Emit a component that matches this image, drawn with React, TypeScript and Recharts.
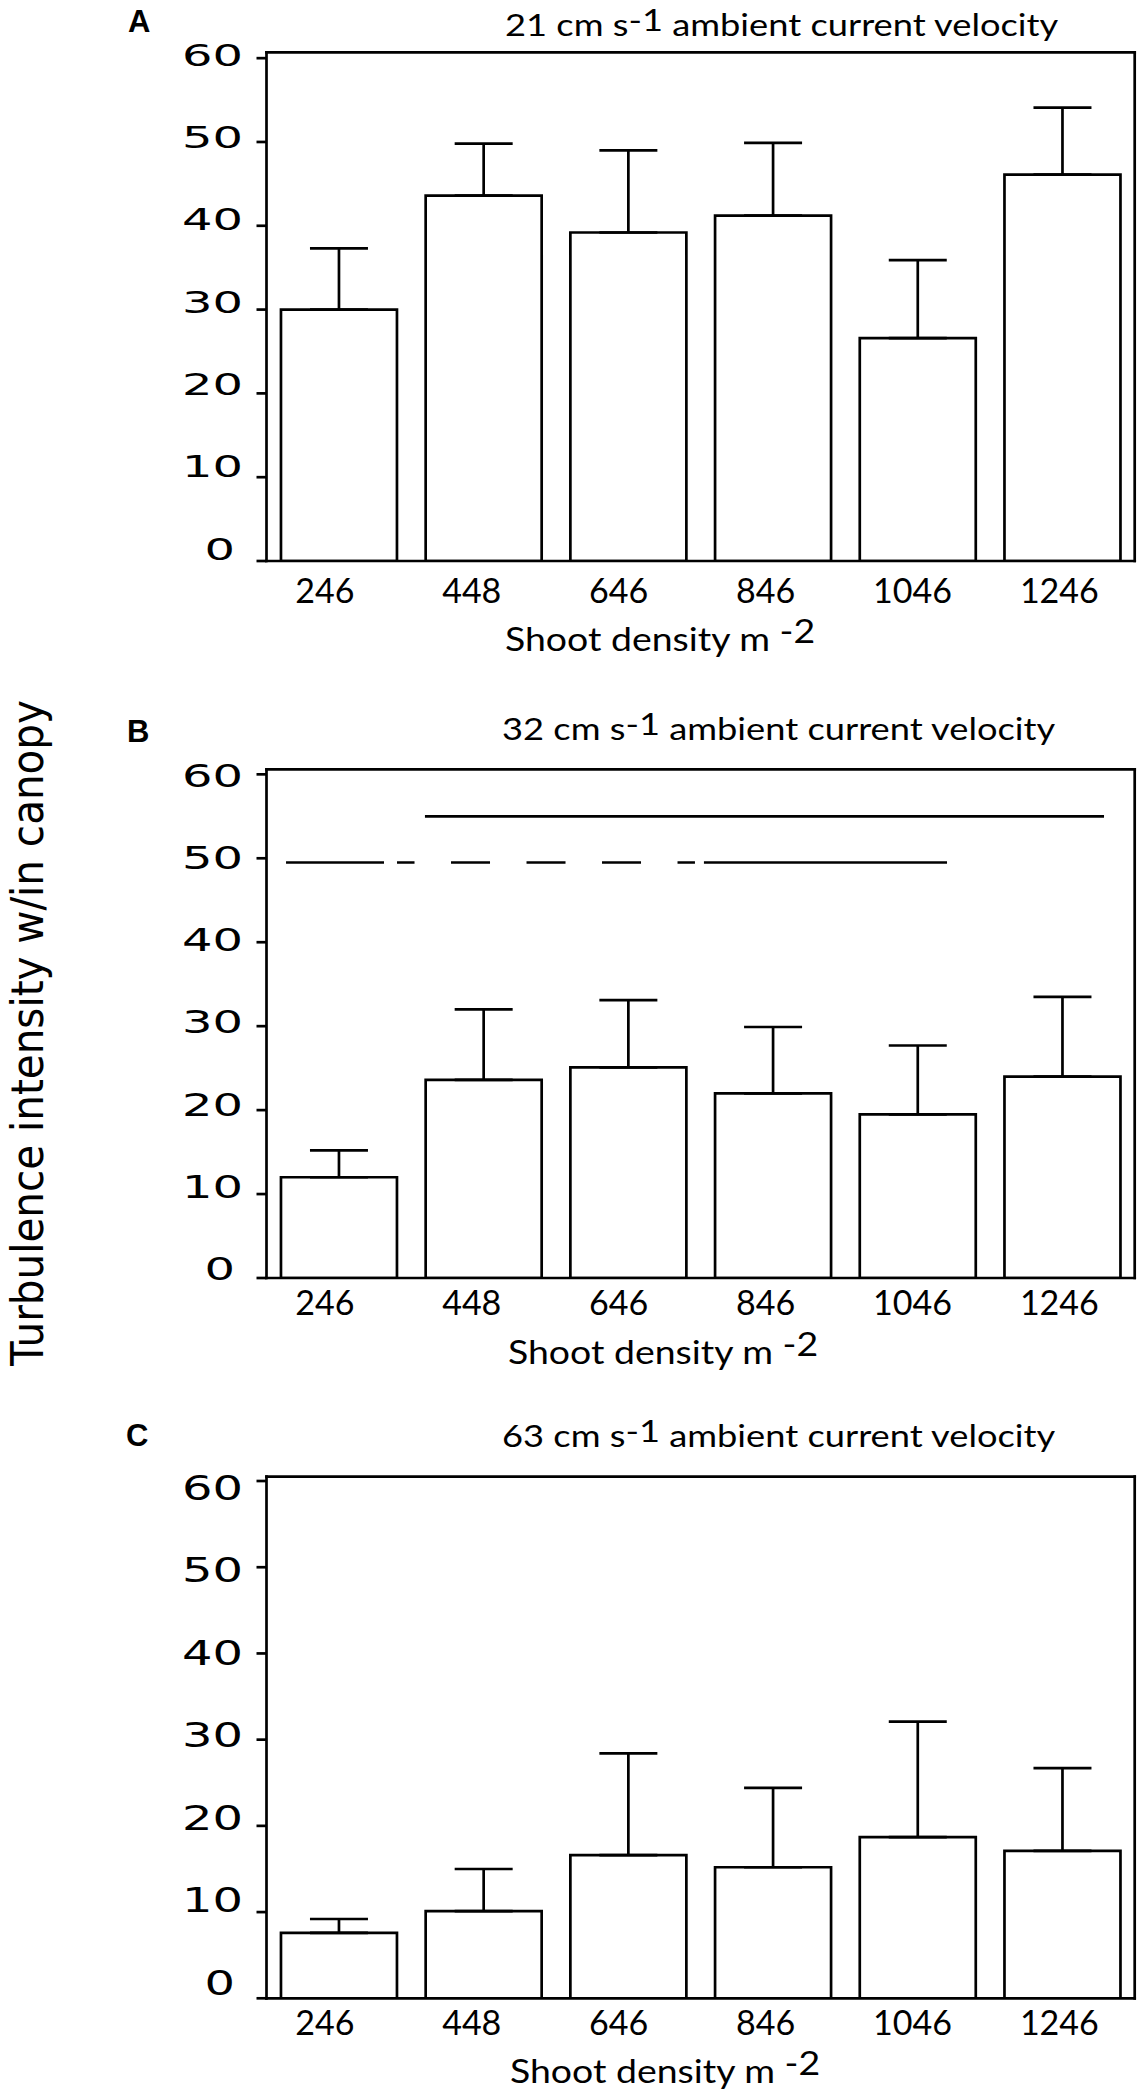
import React from "react";
import { BarChart, Bar, XAxis, YAxis, ErrorBar, ReferenceLine } from "recharts";

// shoot density categories shared by all three panels
const densities = ["246", "448", "646", "846", "1046", "1246"];
const yTicks = [0, 10, 20, 30, 40, 50, 60];

// turbulence intensity (mean) and upper error bar, per ambient velocity
const meanA = [30.0, 43.6, 39.2, 41.2, 26.6, 46.1];
const errA = [7.3, 6.2, 9.8, 8.7, 9.3, 8.0];
const meanB = [12.0, 23.6, 25.1, 22.0, 19.5, 24.0];
const errB = [3.2, 8.4, 8.0, 7.9, 8.2, 9.5];
const meanC = [7.6, 10.1, 16.6, 15.2, 18.7, 17.1];
const errC = [1.6, 4.9, 11.8, 9.2, 13.4, 9.6];

// panel B grouping lines, x in bar units (0 = left edge, 6 = right edge)
const upperGroup = { y: 55, from: 1.095, to: 5.788 };
const lowerGroup = { y: 49.5, solidA: [0.135, 0.812], dashed: [0.902, 2.961], solidB: [3.023, 4.703] };

const INK = "#000";
const SW = 2.7;
const PLOT_LEFT = 266.5;
const PLOT_RIGHT = 1134.7;
const W = 1139;
const STRETCH = 1.17; // the original figure's lettering is widened

// bars sit at the middle of unit-wide slots so the group lines can share the axis
const slots = densities.map((_, i) => i + 0.5);

const rows = (mean: number[], err: number[]) =>
  densities.map((d, i) => ({ slot: slots[i], density: d, mean: mean[i], err: [0, err[i]] }));

type Panel = {
  key: string;
  data: ReturnType<typeof rows>;
  top: number;
  height: number;
  plotTop: number;
  plotBottom: number;
  yMax: number;
  yFont: number;
  shift0: number;
  drift: number;
  xLabelGap: number;
  groups?: boolean;
};

const panels: Panel[] = [
  { key: "A", data: rows(meanA, errA), top: 0, height: 680, plotTop: 52.3, plotBottom: 561, yMax: 60.7, yFont: 30.5, shift0: -3.6, drift: 0.148, xLabelGap: 42.3 },
  { key: "B", data: rows(meanB, errB), top: 680, height: 720, plotTop: 769.3, plotBottom: 1278, yMax: 60.6, yFont: 32, shift0: 0.7, drift: 0.165, xLabelGap: 37, groups: true },
  { key: "C", data: rows(meanC, errC), top: 1400, height: 695, plotTop: 1476.7, plotBottom: 1998.3, yMax: 60.5, yFont: 34, shift0: 6.5, drift: 0.372, xLabelGap: 36.7 },
];

const axisLine = { stroke: INK, strokeWidth: SW, strokeLinecap: "square" as const };

function PanelChart({ p }: { p: Panel }) {
  const yTick = (t: any) => {
    const v = t.payload.value as number;
    const digits = String(v).length;
    const shift = p.shift0 - (60 - v) * p.drift;
    return (
      <text
        x={v === 0 ? 235 : 243}
        y={t.y + shift}
        dy="0.36em"
        textAnchor="end"
        fontFamily="DejaVu Sans"
        fontSize={p.yFont}
        textLength={digits * 30.5}
        lengthAdjust="spacingAndGlyphs"
        fill={INK}
      >
        {v}
      </text>
    );
  };

  const xTick = (t: any) => {
    const i = Math.round(t.payload.value - 0.5);
    return (
      <text
        x={t.x - 14 + i * 2.2}
        y={p.plotBottom - p.top + p.xLabelGap}
        textAnchor="middle"
        fontFamily="Lato"
        fontSize={34}
        fill={INK}
      >
        {densities[i]}
      </text>
    );
  };

  const seg = (from: number, to: number, y: number) => [
    { x: from, y },
    { x: to, y },
  ];

  return (
    <div style={{ position: "absolute", left: 0, top: p.top, width: W, height: p.height }}>
      <BarChart
        width={W}
        height={p.height}
        data={p.data}
        barCategoryGap="10%"
        margin={{
          top: p.plotTop - p.top - 1,
          bottom: p.top + p.height - p.plotBottom - 1,
          left: PLOT_LEFT - 60,
          right: W - PLOT_RIGHT - 1,
        }}
      >
        <XAxis
          dataKey="slot"
          type="number"
          domain={[0, 6]}
          ticks={slots}
          height={1}
          axisLine={axisLine}
          tickLine={false}
          tick={xTick}
          interval={0}
          allowDataOverflow
        />
        <XAxis xAxisId="top" dataKey="slot" type="number" domain={[0, 6]} orientation="top" height={1} axisLine={axisLine} tickLine={false} tick={false} />
        <YAxis
          width={60}
          domain={[0, p.yMax]}
          ticks={yTicks}
          tickSize={10}
          axisLine={axisLine}
          tickLine={{ stroke: INK, strokeWidth: SW }}
          tick={yTick}
          interval={0}
          allowDataOverflow
        />
        <YAxis yAxisId="right" orientation="right" width={1} domain={[0, p.yMax]} axisLine={axisLine} tickLine={false} tick={false} />
        <Bar dataKey="mean" fill="#fff" stroke={INK} strokeWidth={SW} isAnimationActive={false}>
          <ErrorBar dataKey="err" direction="y" width={29} stroke={INK} strokeWidth={SW} isAnimationActive={false} />
        </Bar>
        {p.groups && (
          <ReferenceLine ifOverflow="visible" segment={seg(upperGroup.from, upperGroup.to, upperGroup.y)} stroke={INK} strokeWidth={SW} />
        )}
        {p.groups && (
          <ReferenceLine ifOverflow="visible" segment={seg(lowerGroup.solidA[0], lowerGroup.solidA[1], lowerGroup.y)} stroke={INK} strokeWidth={SW} />
        )}
        {p.groups && (
          <ReferenceLine
            ifOverflow="visible"
            segment={seg(lowerGroup.dashed[0], lowerGroup.dashed[1], lowerGroup.y)}
            stroke={INK}
            strokeWidth={SW}
            strokeDasharray="39 36.5"
            strokeDashoffset={21.5}
          />
        )}
        {p.groups && (
          <ReferenceLine ifOverflow="visible" segment={seg(lowerGroup.solidB[0], lowerGroup.solidB[1], lowerGroup.y)} stroke={INK} strokeWidth={SW} />
        )}
      </BarChart>
    </div>
  );
}

const titles = [
  { letter: "A", letterX: 128, letterY: 32, speed: "21", titleX: 505, titleY: 36, axisX: 505, axisY: 651 },
  { letter: "B", letterX: 127, letterY: 742, speed: "32", titleX: 502, titleY: 739.5, axisX: 508, axisY: 1364 },
  { letter: "C", letterX: 126, letterY: 1446, speed: "63", titleX: 502, titleY: 1446.5, axisX: 510, axisY: 2083 },
];

export default function App() {
  return (
    <div style={{ position: "absolute", left: 0, top: 0, width: W, height: 2095, background: "#fff" }}>
      {panels.map((p) => (
        <PanelChart key={p.key} p={p} />
      ))}
      <svg width={W} height={2095} style={{ position: "absolute", left: 0, top: 0, pointerEvents: "none" }}>
        {titles.map((t) => (
          <g key={t.letter} fill={INK}>
            <text x={t.letterX} y={t.letterY} fontFamily="Liberation Sans" fontWeight="bold" fontSize={31}>
              {t.letter}
            </text>
            <g transform={`translate(${t.titleX} ${t.titleY}) scale(${STRETCH} 1)`}>
              <text x={0} y={0} fontFamily="Lato" fontSize={31}>
                {`${t.speed} cm s`}
                <tspan dy={-5}>-1</tspan>
                <tspan dy={5}> ambient current velocity</tspan>
              </text>
            </g>
            <g transform={`translate(${t.axisX} ${t.axisY}) scale(${STRETCH} 1)`}>
              <text x={0} y={0} fontFamily="Lato" fontSize={32}>
                {"Shoot density m "}
                <tspan dy={-8}>-2</tspan>
              </text>
            </g>
          </g>
        ))}
        <text
          x={43}
          y={1033}
          transform="rotate(-90 43 1033)"
          textAnchor="middle"
          fontFamily="DejaVu Sans"
          fontSize={44}
          textLength={666}
          lengthAdjust="spacingAndGlyphs"
          fill={INK}
        >
          Turbulence intensity w/in canopy
        </text>
      </svg>
    </div>
  );
}
